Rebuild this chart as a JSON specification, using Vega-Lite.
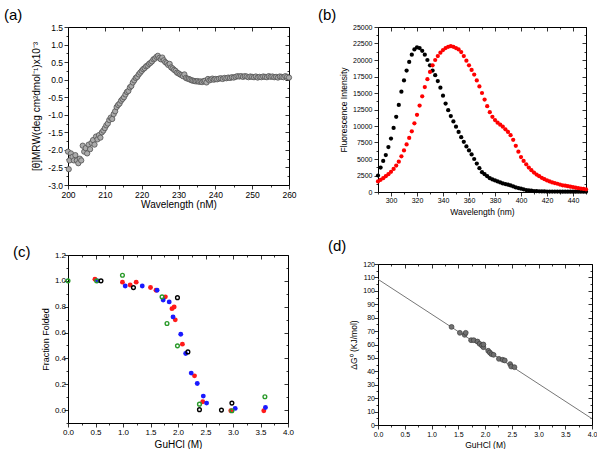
{
  "$schema": "https://vega.github.io/schema/vega-lite/v6.json",
  "padding": {"left": 4, "top": 8, "right": 0, "bottom": 0},
  "background": "white",
  "bounds": "full",
  "spacing": 21,
  "resolve": {"scale": {"color": "independent"}},
  "config": {
    "font": "Liberation Sans",
    "view": {"stroke": null},
    "axis": {"domainColor": "#000", "tickColor": "#000", "labelColor": "#000", "titleColor": "#000", "labelFont": "Liberation Sans", "titleFont": "Liberation Sans", "titleFontWeight": "normal", "grid": false, "domainWidth": 1, "tickWidth": 0.8, "labelOverlap": false, "labelFlush": false},
    "title": {"fontWeight": "normal", "font": "Liberation Sans", "color": "#000"}
  },
  "hconcat": [
    {
      "bounds": "flush",
      "spacing": 70,
      "resolve": {"scale": {"color": "independent"}},
      "vconcat": [
        {
          "width": 221, "height": 158,
          "title": {"text": "(a)", "anchor": "start", "frame": "group", "dx": -64, "fontSize": 15, "offset": 0},
          "data": {"values": [
            {"w":200.0,"c":-2.05},{"w":200.2,"c":-2.55},{"w":200.4,"c":-2.3},{"w":200.8,"c":-2.1},{"w":201.2,"c":-2.2},{"w":201.6,"c":-2.3},{"w":202.0,"c":-2.15},{"w":202.4,"c":-2.3},{"w":202.8,"c":-2.38},{"w":203.2,"c":-2.25},{"w":203.6,"c":-2.3},{"w":204.0,"c":-1.88},{"w":204.4,"c":-2.05},{"w":204.8,"c":-1.95},{"w":205.2,"c":-2.1},{"w":205.6,"c":-1.85},{"w":206.0,"c":-1.98},{"w":206.4,"c":-1.8},{"w":206.8,"c":-1.72},{"w":207.2,"c":-1.85},{"w":207.6,"c":-1.62},{"w":208.0,"c":-1.7},{"w":208.4,"c":-1.58},{"w":208.8,"c":-1.65},{"w":209.2,"c":-1.5},{"w":209.6,"c":-1.45},{"w":210.0,"c":-1.38},{"w":210.4,"c":-1.3},{"w":210.8,"c":-1.25},{"w":211.2,"c":-1.15},{"w":211.6,"c":-1.08},{"w":212.0,"c":-1.12},{"w":212.4,"c":-0.98},{"w":212.8,"c":-0.9},{"w":213.2,"c":-0.78},{"w":213.6,"c":-0.72},{"w":214.0,"c":-0.68},{"w":214.4,"c":-0.6},{"w":214.8,"c":-0.55},{"w":215.2,"c":-0.5},{"w":215.6,"c":-0.42},{"w":216.0,"c":-0.35},{"w":216.4,"c":-0.32},{"w":216.8,"c":-0.22},{"w":217.2,"c":-0.18},{"w":217.6,"c":-0.08},{"w":218.0,"c":-0.02},{"w":218.4,"c":0.05},{"w":218.8,"c":0.08},{"w":219.2,"c":0.15},{"w":219.6,"c":0.2},{"w":220.0,"c":0.25},{"w":220.4,"c":0.3},{"w":220.8,"c":0.33},{"w":221.2,"c":0.38},{"w":221.6,"c":0.4},{"w":222.0,"c":0.45},{"w":222.4,"c":0.48},{"w":222.8,"c":0.52},{"w":223.2,"c":0.58},{"w":223.6,"c":0.6},{"w":224.0,"c":0.65},{"w":224.4,"c":0.68},{"w":224.8,"c":0.62},{"w":225.2,"c":0.58},{"w":225.6,"c":0.63},{"w":226.0,"c":0.55},{"w":226.4,"c":0.5},{"w":226.8,"c":0.47},{"w":227.2,"c":0.42},{"w":227.6,"c":0.45},{"w":228.0,"c":0.35},{"w":228.4,"c":0.32},{"w":228.8,"c":0.28},{"w":229.2,"c":0.25},{"w":229.6,"c":0.2},{"w":230.0,"c":0.18},{"w":230.4,"c":0.15},{"w":230.8,"c":0.13},{"w":231.2,"c":0.1},{"w":231.6,"c":0.15},{"w":232.0,"c":0.05},{"w":232.4,"c":0.03},{"w":232.8,"c":0.02},{"w":233.2,"c":0.0},{"w":233.6,"c":-0.02},{"w":234.0,"c":-0.03},{"w":234.4,"c":-0.04},{"w":234.8,"c":-0.05},{"w":235.2,"c":-0.04},{"w":235.6,"c":-0.06},{"w":236.0,"c":-0.05},{"w":236.4,"c":-0.07},{"w":236.8,"c":-0.04},{"w":237.2,"c":-0.03},{"w":237.6,"c":-0.08},{"w":238.0,"c":0.02},{"w":238.4,"c":-0.02},{"w":238.8,"c":0.0},{"w":239.2,"c":0.03},{"w":239.6,"c":0.0},{"w":240.0,"c":0.02},{"w":240.5,"c":0.01},{"w":241.0,"c":0.03},{"w":241.5,"c":0.04},{"w":242.0,"c":0.02},{"w":242.5,"c":0.05},{"w":243.0,"c":0.04},{"w":243.5,"c":0.06},{"w":244.0,"c":0.05},{"w":244.5,"c":0.07},{"w":245.0,"c":0.06},{"w":245.5,"c":0.08},{"w":246.0,"c":0.1},{"w":246.5,"c":0.09},{"w":247.0,"c":0.1},{"w":247.5,"c":0.08},{"w":248.0,"c":0.1},{"w":248.5,"c":0.09},{"w":249.0,"c":0.07},{"w":249.5,"c":0.09},{"w":250.0,"c":0.08},{"w":250.5,"c":0.07},{"w":251.0,"c":0.09},{"w":251.5,"c":0.06},{"w":252.0,"c":0.08},{"w":252.5,"c":0.07},{"w":253.0,"c":0.09},{"w":253.5,"c":0.08},{"w":254.0,"c":0.07},{"w":254.5,"c":0.1},{"w":255.0,"c":0.08},{"w":255.5,"c":0.09},{"w":256.0,"c":0.07},{"w":256.5,"c":0.08},{"w":257.0,"c":0.06},{"w":257.5,"c":0.09},{"w":258.0,"c":0.08},{"w":258.5,"c":0.07},{"w":259.0,"c":0.1},{"w":259.5,"c":0.08},{"w":260.0,"c":0.06}
          ]},
          "layer": [
            {
              "mark": {"type": "circle", "fill": "#ababab", "stroke": "#505050", "strokeWidth": 0.8, "size": 28, "opacity": 1},
              "encoding": {
                "x": {"field": "w", "type": "quantitative", "scale": {"domain": [200, 260], "nice": false, "zero": false},
                  "axis": {"orient": "bottom", "values": [200,205,210,215,220,225,230,235,240,245,250,255,260], "labelExpr": "datum.value % 10 == 0 ? format(datum.value, 'd') : ''", "tickSize": {"condition": {"test": "datum.value % 10 == 0", "value": 4}, "value": 2}, "title": "Wavelength (nM)", "labelFontSize": 8.5, "titleFontSize": 10, "labelPadding": 1, "titlePadding": 1}},
                "y": {"field": "c", "type": "quantitative", "scale": {"domain": [-3, 1.5], "nice": false, "zero": false},
                  "axis": {"orient": "left", "values": [-3,-2.75,-2.5,-2.25,-2,-1.75,-1.5,-1.25,-1,-0.75,-0.5,-0.25,0,0.25,0.5,0.75,1,1.25,1.5], "labelExpr": "abs(datum.value*2 - round(datum.value*2)) < 0.001 ? (datum.value < 0 ? '-' : '') + format(abs(datum.value), '.1f') : ''", "tickSize": {"condition": {"test": "abs(datum.value*2 - round(datum.value*2)) < 0.001", "value": 4}, "value": 2}, "title": "[θ]MRW(deg cm²dmol⁻¹)x10⁻³", "labelFontSize": 8.5, "titleFontSize": 10, "labelPadding": 1.5, "titlePadding": 6}}
              }
            },
            {
              "mark": {"type": "circle", "opacity": 0},
              "encoding": {
                "x": {"field": "w", "type": "quantitative", "scale": {"domain": [200, 260], "nice": false, "zero": false},
                  "axis": {"orient": "top", "values": [200,205,210,215,220,225,230,235,240,245,250,255,260], "labels": false, "title": null, "tickSize": {"condition": {"test": "datum.value % 10 == 0", "value": -4}, "value": -2}}},
                "y": {"field": "c", "type": "quantitative", "scale": {"domain": [-3, 1.5], "nice": false, "zero": false},
                  "axis": {"orient": "right", "values": [-3,-2.75,-2.5,-2.25,-2,-1.75,-1.5,-1.25,-1,-0.75,-0.5,-0.25,0,0.25,0.5,0.75,1,1.25,1.5], "labels": false, "title": null, "tickSize": {"condition": {"test": "abs(datum.value*2 - round(datum.value*2)) < 0.001", "value": -4}, "value": -2}}}
              }
            }
          ],
          "resolve": {"axis": {"x": "independent", "y": "independent"}}
        },
        {
          "width": 220, "height": 168,
          "title": {"text": "(c)", "anchor": "start", "frame": "group", "dx": -55, "fontSize": 15, "offset": -9},
          "data": {"values": [
            {"g":0.0,"v":1.0,"s":"green"},{"g":0.52,"v":1.0,"s":"green"},{"g":0.99,"v":1.043,"s":"green"},{"g":1.71,"v":0.876,"s":"green"},{"g":1.8,"v":0.67,"s":"green"},{"g":1.99,"v":0.497,"s":"green"},{"g":2.39,"v":0.046,"s":"green"},{"g":2.98,"v":-0.005,"s":"green"},{"g":3.58,"v":0.103,"s":"green"},
            {"g":0.49,"v":1.012,"s":"red"},{"g":0.99,"v":0.99,"s":"red"},{"g":1.13,"v":0.968,"s":"red"},{"g":1.24,"v":0.99,"s":"red"},{"g":1.5,"v":0.948,"s":"red"},{"g":1.6,"v":0.927,"s":"red"},{"g":1.77,"v":0.876,"s":"red"},{"g":1.89,"v":0.785,"s":"red"},{"g":1.93,"v":0.798,"s":"red"},{"g":1.95,"v":0.698,"s":"red"},{"g":2.08,"v":0.51,"s":"red"},{"g":2.3,"v":0.265,"s":"red"},{"g":2.45,"v":0.064,"s":"red"},{"g":2.96,"v":-0.005,"s":"red"},{"g":3.56,"v":-0.005,"s":"red"},
            {"g":0.54,"v":1.0,"s":"blue"},{"g":1.04,"v":0.96,"s":"blue"},{"g":1.35,"v":0.96,"s":"blue"},{"g":1.62,"v":0.927,"s":"blue"},{"g":1.73,"v":0.852,"s":"blue"},{"g":1.84,"v":0.837,"s":"blue"},{"g":1.91,"v":0.721,"s":"blue"},{"g":2.05,"v":0.587,"s":"blue"},{"g":2.14,"v":0.438,"s":"blue"},{"g":2.24,"v":0.286,"s":"blue"},{"g":2.35,"v":0.206,"s":"blue"},{"g":2.46,"v":0.108,"s":"blue"},{"g":2.52,"v":0.054,"s":"blue"},{"g":3.04,"v":0.013,"s":"blue"},{"g":3.59,"v":0.02,"s":"blue"},
            {"g":0.6,"v":1.0,"s":"black"},{"g":1.19,"v":0.948,"s":"black"},{"g":1.99,"v":0.87,"s":"black"},{"g":2.18,"v":0.45,"s":"black"},{"g":2.39,"v":0.003,"s":"black"},{"g":2.79,"v":0.0,"s":"black"},{"g":2.98,"v":0.054,"s":"black"}
          ]},
          "layer": [
            {
              "transform": [{"filter": "datum.s == 'red' || datum.s == 'blue'"}],
              "mark": {"type": "circle", "size": 24, "opacity": 1},
              "encoding": {
                "x": {"field": "g", "type": "quantitative", "scale": {"domain": [0, 4], "nice": false, "zero": false},
                  "axis": {"orient": "bottom", "values": [0,0.25,0.5,0.75,1,1.25,1.5,1.75,2,2.25,2.5,2.75,3,3.25,3.5,3.75,4], "labelExpr": "abs(datum.value*2 - round(datum.value*2)) < 0.001 ? format(datum.value, '.1f') : ''", "tickSize": {"condition": {"test": "abs(datum.value*2 - round(datum.value*2)) < 0.001", "value": 4}, "value": 2}, "title": "GuHCl (M)", "labelFontSize": 8, "titleFontSize": 10, "labelPadding": 1, "titlePadding": 3}},
                "y": {"field": "v", "type": "quantitative", "scale": {"domain": [-0.1, 1.2], "nice": false, "zero": false},
                  "axis": {"orient": "left", "values": [-0.1,0,0.1,0.2,0.3,0.4,0.5,0.6,0.7,0.8,0.9,1,1.1,1.2], "labelExpr": "abs(datum.value*5 - round(datum.value*5)) < 0.001 ? format(abs(datum.value), '.1f') : ''", "tickSize": {"condition": {"test": "abs(datum.value*5 - round(datum.value*5)) < 0.001", "value": 4}, "value": 2}, "title": "Fraction Folded", "labelFontSize": 8, "titleFontSize": 9, "labelPadding": -1.5, "titlePadding": 4}},
                "color": {"field": "s", "type": "nominal", "scale": {"domain": ["green", "red", "blue", "black"], "range": ["#2a9a2a", "#ff1a1a", "#1a1aff", "#000000"]}, "legend": null}
              }
            },
            {
              "transform": [{"filter": "datum.s == 'green' || datum.s == 'black'"}],
              "mark": {"type": "point", "shape": "circle", "filled": false, "size": 14, "strokeWidth": 1.4, "opacity": 1},
              "encoding": {
                "x": {"field": "g", "type": "quantitative", "scale": {"domain": [0, 4], "nice": false, "zero": false},
                  "axis": {"orient": "top", "values": [0,0.25,0.5,0.75,1,1.25,1.5,1.75,2,2.25,2.5,2.75,3,3.25,3.5,3.75,4], "labels": false, "title": null, "tickSize": {"condition": {"test": "abs(datum.value*2 - round(datum.value*2)) < 0.001", "value": -4}, "value": -2}}},
                "y": {"field": "v", "type": "quantitative", "scale": {"domain": [-0.1, 1.2], "nice": false, "zero": false},
                  "axis": {"orient": "right", "values": [-0.1,0,0.1,0.2,0.3,0.4,0.5,0.6,0.7,0.8,0.9,1,1.1,1.2], "labels": false, "title": null, "tickSize": {"condition": {"test": "abs(datum.value*5 - round(datum.value*5)) < 0.001", "value": -4}, "value": -2}}},
                "color": {"field": "s", "type": "nominal", "scale": {"domain": ["green", "red", "blue", "black"], "range": ["#2a9a2a", "#ff1a1a", "#1a1aff", "#000000"]}, "legend": null}
              }
            }
          ],
          "resolve": {"axis": {"x": "independent", "y": "independent"}}
        }
      ]
    },
    {
      "bounds": "flush",
      "spacing": 72,
      "resolve": {"scale": {"color": "independent"}},
      "vconcat": [
        {
          "width": 208, "height": 165,
          "title": {"text": "(b)", "anchor": "start", "frame": "group", "dx": -60, "fontSize": 15, "offset": 0},
          "data": {"values": [
            {"w":290,"f":2500,"s":"n"},{"w":292,"f":3700,"s":"n"},{"w":294,"f":4700,"s":"n"},{"w":296,"f":5600,"s":"n"},{"w":298,"f":6800,"s":"n"},{"w":300,"f":8100,"s":"n"},{"w":302,"f":9700,"s":"n"},{"w":304,"f":11400,"s":"n"},{"w":306,"f":13200,"s":"n"},{"w":308,"f":15200,"s":"n"},{"w":310,"f":16900,"s":"n"},{"w":312,"f":18400,"s":"n"},{"w":314,"f":19700,"s":"n"},{"w":316,"f":20800,"s":"n"},{"w":318,"f":21600,"s":"n"},{"w":320,"f":21900,"s":"n"},{"w":322,"f":21800,"s":"n"},{"w":324,"f":21400,"s":"n"},{"w":326,"f":20800,"s":"n"},{"w":328,"f":20000,"s":"n"},{"w":330,"f":19200,"s":"n"},{"w":332,"f":18400,"s":"n"},{"w":334,"f":17700,"s":"n"},{"w":336,"f":16800,"s":"n"},{"w":338,"f":15800,"s":"n"},{"w":340,"f":14600,"s":"n"},{"w":342,"f":13400,"s":"n"},{"w":344,"f":12400,"s":"n"},{"w":346,"f":11500,"s":"n"},{"w":348,"f":10700,"s":"n"},{"w":350,"f":9900,"s":"n"},{"w":352,"f":9100,"s":"n"},{"w":354,"f":8300,"s":"n"},{"w":356,"f":7600,"s":"n"},{"w":358,"f":6900,"s":"n"},{"w":360,"f":6300,"s":"n"},{"w":362,"f":5700,"s":"n"},{"w":364,"f":5000,"s":"n"},{"w":366,"f":4300,"s":"n"},{"w":368,"f":3600,"s":"n"},{"w":370,"f":3000,"s":"n"},{"w":372,"f":2700,"s":"n"},{"w":374,"f":2400,"s":"n"},{"w":376,"f":2100,"s":"n"},{"w":378,"f":1900,"s":"n"},{"w":380,"f":1750,"s":"n"},{"w":382,"f":1600,"s":"n"},{"w":384,"f":1450,"s":"n"},{"w":386,"f":1300,"s":"n"},{"w":388,"f":1200,"s":"n"},{"w":390,"f":1100,"s":"n"},{"w":392,"f":1000,"s":"n"},{"w":394,"f":850,"s":"n"},{"w":396,"f":700,"s":"n"},{"w":398,"f":600,"s":"n"},{"w":400,"f":500,"s":"n"},{"w":402,"f":400,"s":"n"},{"w":404,"f":300,"s":"n"},{"w":406,"f":250,"s":"n"},{"w":408,"f":200,"s":"n"},{"w":410,"f":150,"s":"n"},{"w":412,"f":120,"s":"n"},{"w":414,"f":100,"s":"n"},{"w":416,"f":90,"s":"n"},{"w":418,"f":80,"s":"n"},{"w":420,"f":75,"s":"n"},{"w":422,"f":70,"s":"n"},{"w":424,"f":70,"s":"n"},{"w":426,"f":65,"s":"n"},{"w":428,"f":60,"s":"n"},{"w":430,"f":60,"s":"n"},{"w":432,"f":55,"s":"n"},{"w":434,"f":55,"s":"n"},{"w":436,"f":50,"s":"n"},{"w":438,"f":50,"s":"n"},{"w":440,"f":50,"s":"n"},{"w":442,"f":45,"s":"n"},{"w":444,"f":45,"s":"n"},{"w":446,"f":40,"s":"n"},{"w":448,"f":40,"s":"n"},{"w":450,"f":40,"s":"n"},
            {"w":290,"f":1600,"s":"d"},{"w":292,"f":1850,"s":"d"},{"w":294,"f":2100,"s":"d"},{"w":296,"f":2400,"s":"d"},{"w":298,"f":2700,"s":"d"},{"w":300,"f":3050,"s":"d"},{"w":302,"f":3500,"s":"d"},{"w":304,"f":4000,"s":"d"},{"w":306,"f":4600,"s":"d"},{"w":308,"f":5400,"s":"d"},{"w":310,"f":6300,"s":"d"},{"w":312,"f":7200,"s":"d"},{"w":314,"f":8200,"s":"d"},{"w":316,"f":9200,"s":"d"},{"w":318,"f":10400,"s":"d"},{"w":320,"f":11700,"s":"d"},{"w":322,"f":13100,"s":"d"},{"w":324,"f":14500,"s":"d"},{"w":326,"f":15900,"s":"d"},{"w":328,"f":17100,"s":"d"},{"w":330,"f":18200,"s":"d"},{"w":332,"f":19200,"s":"d"},{"w":334,"f":20000,"s":"d"},{"w":336,"f":20600,"s":"d"},{"w":338,"f":21100,"s":"d"},{"w":340,"f":21500,"s":"d"},{"w":342,"f":21800,"s":"d"},{"w":344,"f":22000,"s":"d"},{"w":346,"f":22100,"s":"d"},{"w":348,"f":22000,"s":"d"},{"w":350,"f":21800,"s":"d"},{"w":352,"f":21600,"s":"d"},{"w":354,"f":21200,"s":"d"},{"w":356,"f":20600,"s":"d"},{"w":358,"f":19900,"s":"d"},{"w":360,"f":19200,"s":"d"},{"w":362,"f":18500,"s":"d"},{"w":364,"f":17800,"s":"d"},{"w":366,"f":16900,"s":"d"},{"w":368,"f":16000,"s":"d"},{"w":370,"f":15000,"s":"d"},{"w":372,"f":14000,"s":"d"},{"w":374,"f":13000,"s":"d"},{"w":376,"f":12100,"s":"d"},{"w":378,"f":11400,"s":"d"},{"w":380,"f":10900,"s":"d"},{"w":382,"f":10500,"s":"d"},{"w":384,"f":10200,"s":"d"},{"w":386,"f":9900,"s":"d"},{"w":388,"f":9500,"s":"d"},{"w":390,"f":9100,"s":"d"},{"w":392,"f":8600,"s":"d"},{"w":394,"f":7900,"s":"d"},{"w":396,"f":7000,"s":"d"},{"w":398,"f":6100,"s":"d"},{"w":400,"f":5300,"s":"d"},{"w":402,"f":4700,"s":"d"},{"w":404,"f":4200,"s":"d"},{"w":406,"f":3700,"s":"d"},{"w":408,"f":3300,"s":"d"},{"w":410,"f":2950,"s":"d"},{"w":412,"f":2650,"s":"d"},{"w":414,"f":2400,"s":"d"},{"w":416,"f":2150,"s":"d"},{"w":418,"f":1950,"s":"d"},{"w":420,"f":1750,"s":"d"},{"w":422,"f":1600,"s":"d"},{"w":424,"f":1450,"s":"d"},{"w":426,"f":1350,"s":"d"},{"w":428,"f":1250,"s":"d"},{"w":430,"f":1120,"s":"d"},{"w":432,"f":1020,"s":"d"},{"w":434,"f":950,"s":"d"},{"w":436,"f":880,"s":"d"},{"w":438,"f":800,"s":"d"},{"w":440,"f":740,"s":"d"},{"w":442,"f":660,"s":"d"},{"w":444,"f":580,"s":"d"},{"w":446,"f":520,"s":"d"},{"w":448,"f":460,"s":"d"},{"w":450,"f":400,"s":"d"}
          ]},
          "layer": [
            {
              "mark": {"type": "circle", "size": 18, "opacity": 1},
              "encoding": {
                "x": {"field": "w", "type": "quantitative", "scale": {"domain": [290, 450], "nice": false, "zero": false},
                  "axis": {"orient": "bottom", "values": [290,300,310,320,330,340,350,360,370,380,390,400,410,420,430,440,450], "labelExpr": "datum.value % 20 == 0 ? format(datum.value, 'd') : ''", "tickSize": {"condition": {"test": "datum.value % 20 == 0", "value": 4}, "value": 2}, "title": "Wavelength (nm)", "labelFontSize": 7, "titleFontSize": 8.5, "labelPadding": 0, "titlePadding": 4}},
                "y": {"field": "f", "type": "quantitative", "scale": {"domain": [0, 25000], "nice": false, "zero": false},
                  "axis": {"orient": "left", "values": [0,1250,2500,3750,5000,6250,7500,8750,10000,11250,12500,13750,15000,16250,17500,18750,20000,21250,22500,23750,25000], "labelExpr": "datum.value % 2500 == 0 ? format(datum.value, 'd') : ''", "tickSize": {"condition": {"test": "datum.value % 2500 == 0", "value": 4}, "value": 2}, "title": "Fluorescence Intensity", "labelFontSize": 7, "titleFontSize": 8.5, "labelPadding": 2, "titlePadding": 4}},
                "color": {"field": "s", "type": "nominal", "scale": {"domain": ["n", "d"], "range": ["#000000", "#ff0000"]}, "legend": null},
                "order": {"field": "s", "sort": "descending"}
              }
            },
            {
              "mark": {"type": "circle", "opacity": 0},
              "encoding": {
                "x": {"field": "w", "type": "quantitative", "scale": {"domain": [290, 450], "nice": false, "zero": false},
                  "axis": {"orient": "top", "values": [290,300,310,320,330,340,350,360,370,380,390,400,410,420,430,440,450], "labels": false, "title": null, "tickSize": {"condition": {"test": "datum.value % 20 == 0", "value": -4}, "value": -2}}},
                "y": {"field": "f", "type": "quantitative", "scale": {"domain": [0, 25000], "nice": false, "zero": false},
                  "axis": {"orient": "right", "values": [0,1250,2500,3750,5000,6250,7500,8750,10000,11250,12500,13750,15000,16250,17500,18750,20000,21250,22500,23750,25000], "labels": false, "title": null, "tickSize": {"condition": {"test": "datum.value % 2500 == 0", "value": -4}, "value": -2}}}
              }
            }
          ],
          "resolve": {"axis": {"x": "independent", "y": "independent"}}
        },
        {
          "width": 214, "height": 161,
          "title": {"text": "(d)", "anchor": "start", "frame": "group", "dx": -50, "fontSize": 15, "offset": 6},
          "layer": [
            {
              "data": {"values": [{"g":0,"dg":108.6},{"g":4,"dg":4.7}]},
              "mark": {"type": "line", "color": "#777777", "strokeWidth": 1},
              "encoding": {
                "x": {"field": "g", "type": "quantitative", "scale": {"domain": [0, 4], "nice": false, "zero": false},
                  "axis": {"orient": "bottom", "values": [0,0.25,0.5,0.75,1,1.25,1.5,1.75,2,2.25,2.5,2.75,3,3.25,3.5,3.75,4], "labelExpr": "abs(datum.value*2 - round(datum.value*2)) < 0.001 ? format(datum.value, '.1f') : ''", "tickSize": {"condition": {"test": "abs(datum.value*2 - round(datum.value*2)) < 0.001", "value": 4}, "value": 2}, "title": "GuHCl (M)", "labelFontSize": 7, "titleFontSize": 8.5, "labelPadding": 1, "titlePadding": 3}},
                "y": {"field": "dg", "type": "quantitative", "scale": {"domain": [0, 120], "nice": false, "zero": false},
                  "axis": {"orient": "left", "values": [0,5,10,15,20,25,30,35,40,45,50,55,60,65,70,75,80,85,90,95,100,105,110,115,120], "labelExpr": "datum.value % 10 == 0 ? format(datum.value, 'd') : ''", "tickSize": {"condition": {"test": "datum.value % 10 == 0", "value": 4}, "value": 2}, "title": "ΔG⁰ (KJ/mol)", "labelFontSize": 7, "titleFontSize": 8.5, "labelPadding": -0.5, "titlePadding": 4}}
              }
            },
            {
              "data": {"values": [
                {"g":1.375,"dg":73.1},{"g":1.53,"dg":68.7},{"g":1.62,"dg":67.2},{"g":1.64,"dg":68.7},{"g":1.74,"dg":63.2},{"g":1.79,"dg":63.2},{"g":1.86,"dg":62.2},{"g":1.9,"dg":60.5},{"g":1.94,"dg":59.3},{"g":1.97,"dg":58.0},{"g":1.97,"dg":60.0},{"g":2.06,"dg":55.3},{"g":2.09,"dg":54.0},{"g":2.12,"dg":52.8},{"g":2.16,"dg":52.3},{"g":2.26,"dg":49.3},{"g":2.33,"dg":48.6},{"g":2.37,"dg":48.1},{"g":2.47,"dg":45.4},{"g":2.49,"dg":43.6},{"g":2.55,"dg":43.1}
              ]},
              "mark": {"type": "circle", "fill": "#707070", "stroke": "#3a3a3a", "strokeWidth": 0.7, "size": 24, "opacity": 1},
              "encoding": {
                "x": {"field": "g", "type": "quantitative", "scale": {"domain": [0, 4], "nice": false, "zero": false},
                  "axis": {"orient": "top", "values": [0,0.25,0.5,0.75,1,1.25,1.5,1.75,2,2.25,2.5,2.75,3,3.25,3.5,3.75,4], "labels": false, "title": null, "tickSize": {"condition": {"test": "abs(datum.value*2 - round(datum.value*2)) < 0.001", "value": -4}, "value": -2}}},
                "y": {"field": "dg", "type": "quantitative", "scale": {"domain": [0, 120], "nice": false, "zero": false},
                  "axis": {"orient": "right", "values": [0,5,10,15,20,25,30,35,40,45,50,55,60,65,70,75,80,85,90,95,100,105,110,115,120], "labels": false, "title": null, "tickSize": {"condition": {"test": "datum.value % 10 == 0", "value": -4}, "value": -2}}}
              }
            }
          ],
          "resolve": {"axis": {"x": "independent", "y": "independent"}}
        }
      ]
    }
  ]
}
